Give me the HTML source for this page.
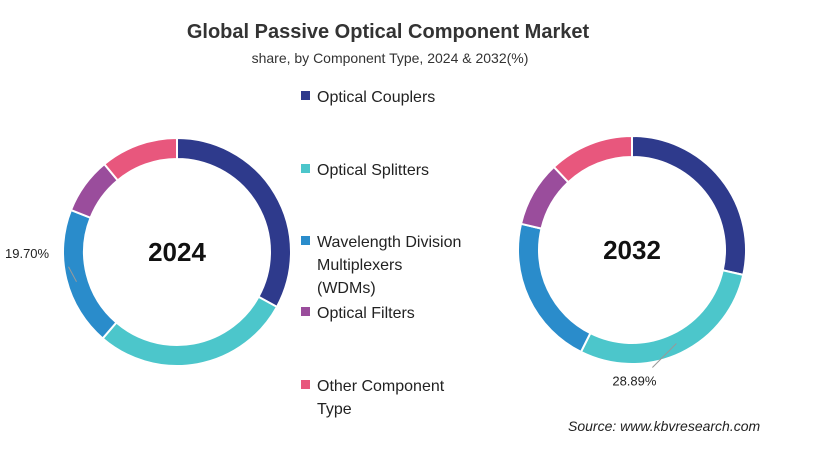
<!DOCTYPE html>
<html><head><meta charset="utf-8"><style>
body{margin:0;width:817px;height:452px;background:#fff;font-family:"Liberation Sans",sans-serif;overflow:hidden;position:relative}
.t{position:absolute;white-space:nowrap}
</style></head><body>
<div class="t" style="left:0;width:776px;text-align:center;top:21px;font-size:20px;font-weight:bold;color:#333">Global Passive Optical Component Market</div>
<div class="t" style="left:0;width:780px;text-align:center;top:50px;font-size:14px;color:#333">share, by Component Type, 2024 &amp; 2032(%)</div>
<svg id="c" width="817" height="452" style="position:absolute;left:0;top:0"></svg>
<div class="t" style="left:568px;top:418px;font-size:14px;font-style:italic;color:#222">Source: www.kbvresearch.com</div>
<script>
const categories=["Optical Couplers","Optical Splitters","Wavelength Division Multiplexers (WDMs)","Optical Filters","Other Component Type"];
const colors=["#2e3a8c","#4cc6cb","#2a8ccb","#9a4d9c","#e8577d"];
const values2024=[33,28.3,19.7,8,11];
const values2032=[28.5,28.89,21.3,9.3,12.01];
const legendLines=[["Optical Couplers"],["Optical Splitters"],["Wavelength Division","Multiplexers","(WDMs)"],["Optical Filters"],["Other Component","Type"]];
const legendY=[97,170,242,313,386];
const svg=document.getElementById('c');const NS="http://www.w3.org/2000/svg";
function mk(t,a){const e=document.createElementNS(NS,t);for(const k in a)e.setAttribute(k,a[k]);svg.appendChild(e);return e;}
function pt(cx,cy,r,f){const a=f*2*Math.PI;return [cx+r*Math.sin(a),cy-r*Math.cos(a)];}
function donut(cx,cy,vals,year,lbl){
  const R=114,r=93,tot=vals.reduce((a,b)=>a+b,0);let acc=0;
  vals.forEach((v,i)=>{const f0=acc/tot,f1=(acc+v)/tot;acc+=v;
    const [x0,y0]=pt(cx,cy,R,f0),[x1,y1]=pt(cx,cy,R,f1),[x2,y2]=pt(cx,cy,r,f1),[x3,y3]=pt(cx,cy,r,f0);
    const lg=(f1-f0)>0.5?1:0;
    const p=mk('path',{d:`M${x0},${y0}A${R},${R} 0 ${lg} 1 ${x1},${y1}L${x2},${y2}A${r},${r} 0 ${lg} 0 ${x3},${y3}Z`,fill:colors[i],stroke:'#fff','stroke-width':2});
    
    
  });
  const t=mk('text',{x:cx,y:cy+9,'text-anchor':'middle','font-size':26,'font-weight':'bold',fill:'#111'});t.textContent=year;
  
  
  let s=0;for(let i=0;i<lbl;i++)s+=vals[i];const fm=(s+vals[lbl]/2)/tot;
  const [ax,ay]=pt(cx,cy,(R+r)/2,fm);return {ax,ay,v:vals[lbl]};
}
const a=donut(177,252,values2024,'2024',2);
mk('line',{x1:a.ax,y1:a.ay+5,x2:a.ax-8,y2:a.ay-10,stroke:'#999'});
let tl=mk('text',{x:5,y:258,'font-size':13,fill:'#222'});tl.textContent=a.v.toFixed(2)+'%';


const b=donut(632,250,values2032,'2032',1);
mk('line',{x1:b.ax,y1:b.ay,x2:b.ax-24,y2:b.ay+24,stroke:'#999'});
tl=mk('text',{x:b.ax-42,y:b.ay+42,'text-anchor':'middle','font-size':13,fill:'#222'});tl.textContent=b.v.toFixed(2)+'%';


legendLines.forEach((ls,i)=>{
  const r=mk('rect',{x:301,y:legendY[i]-6,width:9,height:9,fill:colors[i]});
  
  
  ls.forEach((l,j)=>{const t=mk('text',{x:317,y:legendY[i]+5+j*23,'font-size':16,fill:'#222'});t.textContent=l;
    
    });
});
</script>
</body></html>
